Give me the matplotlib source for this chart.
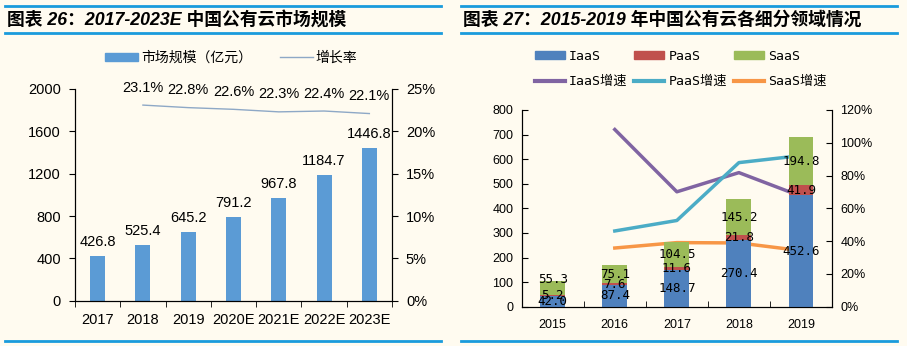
import matplotlib
matplotlib.use("Agg")
import matplotlib.pyplot as plt
from matplotlib.patches import Patch
from matplotlib.lines import Line2D
from matplotlib.ticker import FuncFormatter, FixedLocator, MultipleLocator

plt.rcParams['font.family'] = ['Liberation Sans', 'Noto Sans CJK SC']

# 图表26：中国公有云市场规模（亿元）及增长率
years_a = ['2017', '2018', '2019', '2020E', '2021E', '2022E', '2023E']
market_size = [426.8, 525.4, 645.2, 791.2, 967.8, 1184.7, 1446.8]
growth_rate = [23.1, 22.8, 22.6, 22.3, 22.4, 22.1]   # 2018 起，单位 %

# 图表27：各细分领域规模（亿元）及增速
years_b = ['2015', '2016', '2017', '2018', '2019']
iaas = [42.0, 87.4, 148.7, 270.4, 452.6]
paas = [5.2, 7.6, 11.6, 21.8, 41.9]
saas = [55.3, 75.1, 104.5, 145.2, 194.8]
iaas_growth = [108.1, 70.1, 81.8, 67.4]   # 2016 起，单位 %
paas_growth = [46.2, 52.6, 87.9, 92.2]
saas_growth = [35.8, 39.1, 38.9, 34.2]

BG = '#FFFBF0'
RULE = '#1A9BDC'
W, H = 907, 346

fig = plt.figure(figsize=(W / 100, H / 100), dpi=100, facecolor=BG)


def px_x(x):
    return x / W


def px_y(y):
    return 1 - y / H


def rule(x0, x1, y):
    fig.add_artist(Line2D([px_x(x0), px_x(x1)], [px_y(y)] * 2,
                          transform=fig.transFigure, color=RULE, lw=2))


# 标题与分隔线
for x0, x1 in [(5, 441), (461, 897)]:
    rule(x0, x1, 6)
    rule(x0, x1, 33)
    rule(x0, x1, 341)

title_font = dict(fontsize=12.8, weight='bold', style='italic', va='center',
                  family=['Liberation Sans', 'Noto Sans CJK SC'])
fig.text(px_x(7), px_y(20), '图表 26：2017-2023E 中国公有云市场规模', **title_font)
fig.text(px_x(463), px_y(20), '图表 27：2015-2019 年中国公有云各细分领域情况', **title_font)

# ---------------- 左图 ----------------
ax1 = fig.add_axes([px_x(75), px_y(300.7), px_x(392 - 75), (300.7 - 89) / H])
ax1.set_facecolor('none')
xa = list(range(len(years_a)))
ax1.bar(xa, market_size, width=0.33, color='#5B9BD5', zorder=2)
for i, v in enumerate(market_size):
    ax1.annotate(f'{v:.1f}', (i, v), xytext=(0, 5), textcoords='offset points',
                 ha='center', va='bottom', fontsize=10.5)
ax1.set_xlim(-0.5, len(years_a) - 0.5)
ax1.set_ylim(0, 2000)
ax1.yaxis.set_major_locator(MultipleLocator(400))
ax1.set_xticks(xa)
ax1.set_xticklabels(years_a)
ax1.xaxis.set_minor_locator(FixedLocator([i - 0.5 for i in range(len(years_a) + 1)]))
ax1.tick_params(axis='x', which='major', length=0, labelsize=10.5, pad=9)
ax1.tick_params(axis='x', which='minor', length=4, direction='out')
ax1.tick_params(axis='y', length=4, direction='out', labelsize=10.5, pad=6)
ax1.spines['top'].set_visible(False)

ax1r = ax1.twinx()
ax1r.plot(range(1, len(years_a)), [g / 100 for g in growth_rate],
          color='#8EA8C6', lw=1)
for i, g in enumerate(growth_rate, start=1):
    ax1r.annotate(f'{g:.1f}%', (i, g / 100), xytext=(0, 7.5), textcoords='offset points',
                  ha='center', va='bottom', fontsize=10.5)
ax1r.set_ylim(0, 0.25)
ax1r.yaxis.set_major_locator(MultipleLocator(0.05))
ax1r.yaxis.set_major_formatter(FuncFormatter(lambda v, _: f'{v * 100:.0f}%'))
ax1r.tick_params(axis='y', length=4, direction='out', labelsize=10.5, pad=6)
ax1r.spines['top'].set_visible(False)

fig.legend(handles=[Patch(color='#5B9BD5', label='市场规模（亿元）'),
                    Line2D([], [], color='#8EA8C6', lw=1, label='增长率')],
           loc='center', bbox_to_anchor=(px_x(231), px_y(58)), ncol=2, frameon=False,
           fontsize=10, handlelength=2.4, handleheight=0.55, handletextpad=0.2,
           columnspacing=2.0)

# ---------------- 右图 ----------------
ax2 = fig.add_axes([px_x(521.7), px_y(306.7), px_x(832 - 521.7), (306.7 - 110) / H])
ax2.set_facecolor('none')
xb = list(range(len(years_b)))
c_iaas, c_paas, c_saas = '#4F81BD', '#C0504D', '#9BBB59'
bottom2 = iaas
bottom3 = [a + b for a, b in zip(iaas, paas)]
ax2.bar(xb, iaas, width=0.4, color=c_iaas, zorder=2)
ax2.bar(xb, paas, width=0.4, bottom=bottom2, color=c_paas, zorder=2)
ax2.bar(xb, saas, width=0.4, bottom=bottom3, color=c_saas, zorder=2)

# 段内数值标签，2015 年各段过薄，SaaS 标签略上移
mono = ['DejaVu Sans Mono', 'Noto Sans CJK SC']
for i in xb:
    for k, (base, v) in enumerate([(0, iaas[i]), (bottom2[i], paas[i]), (bottom3[i], saas[i])]):
        dy = 6 if (i == 0 and k == 2) else 0
        ax2.annotate(f'{v:.1f}', (i, base + v / 2), xytext=(0, dy), textcoords='offset points',
                     ha='center', va='center', fontsize=9, family=mono, zorder=10)

ax2.set_xlim(-0.5, len(years_b) - 0.5)
ax2.set_ylim(0, 800)
ax2.yaxis.set_major_locator(MultipleLocator(100))
ax2.set_xticks(xb)
ax2.set_xticklabels(years_b)
ax2.xaxis.set_minor_locator(FixedLocator([i - 0.5 for i in range(len(years_b) + 1)]))
ax2.tick_params(axis='x', which='major', length=0, labelsize=9, pad=9)
ax2.tick_params(axis='x', which='minor', length=4, direction='in')
ax2.tick_params(axis='y', length=4, direction='in', labelsize=9, pad=6)
ax2.spines['top'].set_visible(False)

ax2r = ax2.twinx()
xg = xb[1:]
c_ig, c_pg, c_sg = '#8064A2', '#4BACC6', '#F79646'
ax2r.plot(xg, [g / 100 for g in iaas_growth], color=c_ig, lw=2.5, zorder=4)
ax2r.plot(xg, [g / 100 for g in paas_growth], color=c_pg, lw=2.5, zorder=4)
ax2r.plot(xg, [g / 100 for g in saas_growth], color=c_sg, lw=2.5, zorder=4)
ax2r.set_ylim(0, 1.2)
ax2r.yaxis.set_major_locator(MultipleLocator(0.2))
ax2r.yaxis.set_major_formatter(FuncFormatter(lambda v, _: f'{v * 100:.0f}%'))
ax2r.tick_params(axis='y', length=4, direction='in', labelsize=9, pad=6)
ax2r.spines['top'].set_visible(False)
# 数值标签压在折线之上
ax2.set_zorder(ax2r.get_zorder() + 1)
ax2.patch.set_visible(False)
ax2r.set_zorder(0)

handles = [Patch(color=c_iaas, label='IaaS'),
           Line2D([], [], color=c_ig, lw=3, label='IaaS增速'),
           Patch(color=c_paas, label='PaaS'),
           Line2D([], [], color=c_pg, lw=3, label='PaaS增速'),
           Patch(color=c_saas, label='SaaS'),
           Line2D([], [], color=c_sg, lw=3, label='SaaS增速')]
fig.legend(handles=handles, loc='center', bbox_to_anchor=(px_x(680.5), px_y(69)),
           ncol=3, frameon=False, prop={'family': mono, 'size': 9.5},
           handlelength=2.3, handleheight=0.55, handletextpad=0.3,
           columnspacing=0.5, labelspacing=0.9)

fig.savefig('out.png', dpi=100, facecolor=BG)
